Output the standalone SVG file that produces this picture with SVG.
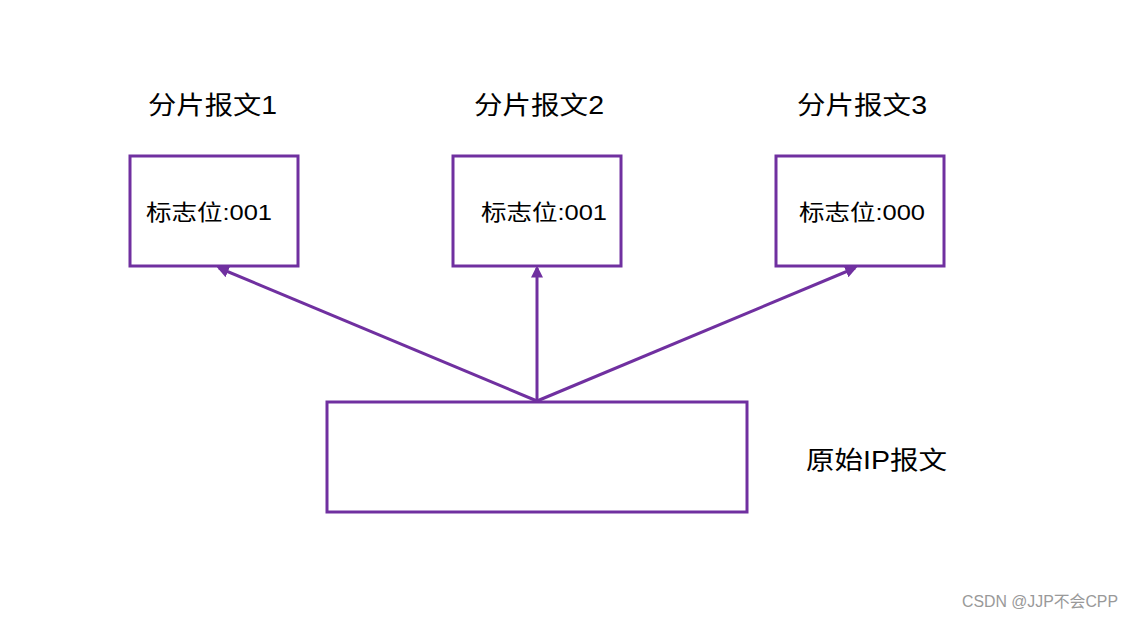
<svg xmlns="http://www.w3.org/2000/svg" width="1133" height="619" viewBox="0 0 1133 619">
<defs>
<style>
.box{fill:#fff;stroke:#7030A0;stroke-width:3}
.t{font-family:"Liberation Sans","Noto Sans CJK SC",sans-serif;fill:#000}
.title{font-size:25px}
.lbl{font-size:22px}
.edge{stroke:#7030A0;stroke-width:3;fill:none;marker-end:url(#ah)}
.wm{font-family:"Liberation Sans","Noto Sans CJK SC",sans-serif;font-size:16px;fill:#999}
</style>
<marker id="ah" viewBox="0 0 10 10" refX="8" refY="5" markerWidth="4" markerHeight="4" orient="auto" markerUnits="strokeWidth">
<path d="M0,0 L10,5 L0,10 z" fill="#7030A0"/>
</marker>
</defs>
<rect width="1133" height="619" fill="#fff"/>
<g id="frag1">
<text class="t title" x="148" y="114" textLength="129" lengthAdjust="spacingAndGlyphs">分片报文1</text>
<rect class="box" x="130" y="156" width="168" height="110"/>
<text class="t lbl" x="146" y="220" textLength="126" lengthAdjust="spacingAndGlyphs">标志位:001</text>
</g>
<g id="frag2">
<text class="t title" x="474" y="114" textLength="130" lengthAdjust="spacingAndGlyphs">分片报文2</text>
<rect class="box" x="453" y="156" width="168" height="110"/>
<text class="t lbl" x="481" y="220" textLength="126" lengthAdjust="spacingAndGlyphs">标志位:001</text>
</g>
<g id="frag3">
<text class="t title" x="797" y="114" textLength="130" lengthAdjust="spacingAndGlyphs">分片报文3</text>
<rect class="box" x="776" y="156" width="168" height="110"/>
<text class="t lbl" x="799" y="220" textLength="126" lengthAdjust="spacingAndGlyphs">标志位:000</text>
</g>
<g id="orig">
<rect class="box" x="327" y="402" width="420" height="110"/>
<text class="t title" x="806" y="469" textLength="141" lengthAdjust="spacingAndGlyphs">原始IP报文</text>
</g>
<g id="connectors">
<line class="edge" x1="537" y1="401" x2="219" y2="268"/>
<line class="edge" x1="537" y1="401" x2="537" y2="268"/>
<line class="edge" x1="537" y1="401" x2="855" y2="268"/>
</g>
<text class="wm" x="962" y="607" textLength="156" lengthAdjust="spacingAndGlyphs">CSDN @JJP不会CPP</text>
</svg>
